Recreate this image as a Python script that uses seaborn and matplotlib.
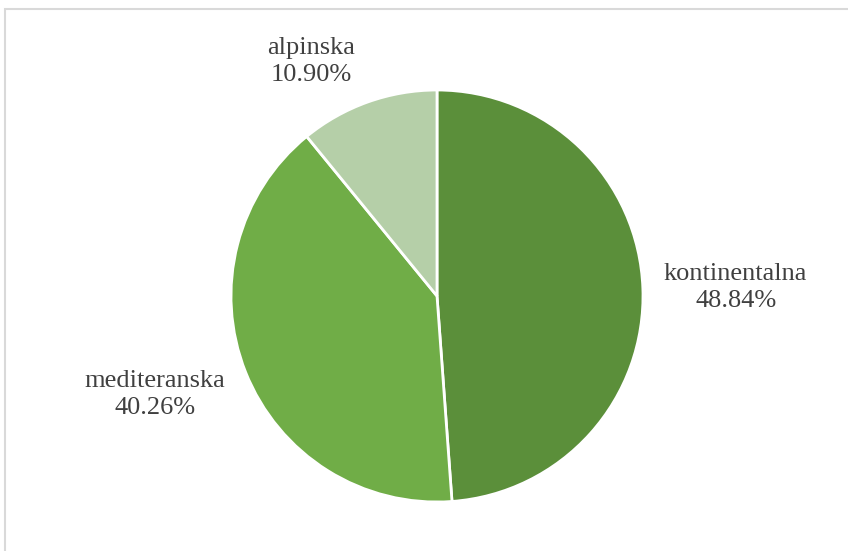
import matplotlib

matplotlib.use("Agg")

import matplotlib.pyplot as plt
import seaborn as sns
from matplotlib.patches import Rectangle


regions = ["kontinentalna", "mediteranska", "alpinska"]
shares = [48.84, 40.26, 10.90]
colors = ["#5B8F3A", "#70AD47", "#B5CFA8"]

# label anchor spots in pie-radius units (centre of the two-line label)
label_spots = {
	"kontinentalna": (1.45, 0.04),
	"mediteranska": (-1.37, -0.48),
	"alpinska": (-0.61, 1.14),
}


def main():
	sns.set_theme(style="white")
	plt.rcParams["font.family"] = ["Liberation Serif", "DejaVu Serif"]

	fig = plt.figure(figsize=(8.48, 5.51), dpi=100)
	ax = fig.add_axes([0, 0, 1, 1])

	ax.pie(
		shares,
		colors=sns.color_palette(colors),
		startangle=90,
		counterclock=False,
		radius=1.0,
		wedgeprops={"edgecolor": "white", "linewidth": 2},
	)

	for name, value in zip(regions, shares):
		x, y = label_spots[name]
		ax.text(x, y, f"{name}\n{value:.2f}%", ha="center", va="center",
			fontsize=19, color="#404040", linespacing=1.3)

	# keep the pie centre at pixel (437, 296) with radius 206 px
	ax.set_xlim(-437 / 206, (848 - 437) / 206)
	ax.set_ylim(-(551 - 296) / 206, 296 / 206)
	ax.set_aspect("auto")
	ax.axis("off")

	fig.patches.append(Rectangle((5 / 848, -0.1), 1.2, 1 - 9 / 551 + 0.1,
		transform=fig.transFigure, fill=False, edgecolor="#D9D9D9", linewidth=1.5))

	fig.savefig("out.png", dpi=100, facecolor="white")
	plt.close(fig)


if __name__ == "__main__":
	main()
